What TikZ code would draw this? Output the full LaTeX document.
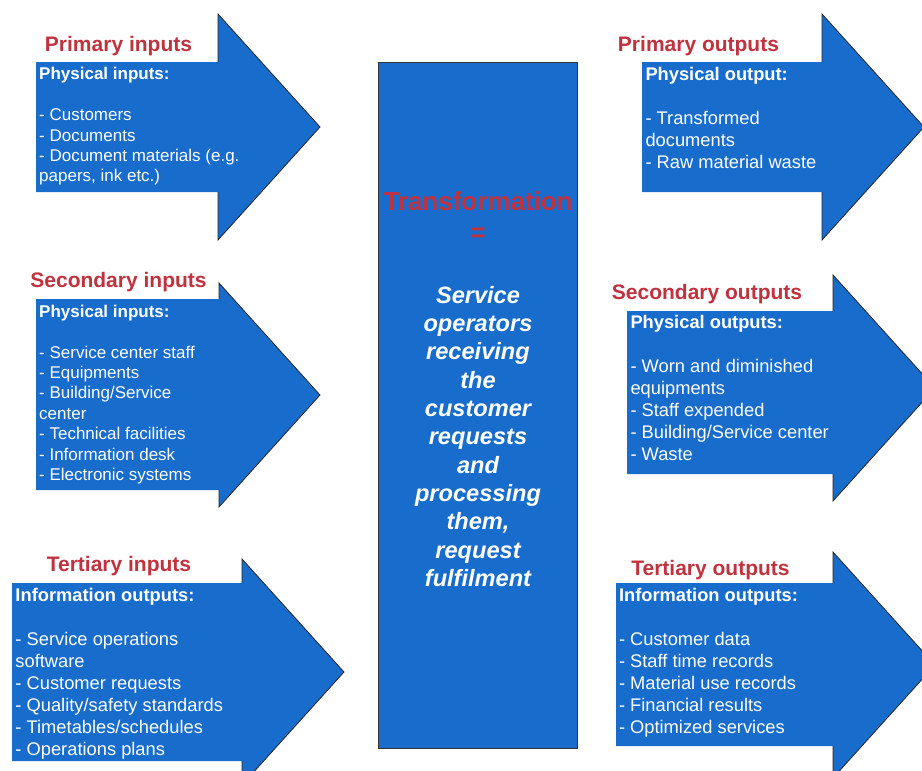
\documentclass[tikz,border=0pt]{standalone}
\usepackage{fontspec}
\setmainfont{Liberation Sans}
\definecolor{arrowblue}{RGB}{23,108,204}
\definecolor{titlered}{RGB}{192,50,62}
\begin{document}
\begin{tikzpicture}[x=1pt,y=-1pt,
  arrowfill/.style={fill=arrowblue},
  headline/.style={draw=black!85, line width=0.8pt, line join=miter},
  corebox/.style={draw=black!80, fill=arrowblue, line width=1pt},
  titletext/.style={text=titlered, font=\fontsize{21}{25}\selectfont\bfseries, inner sep=0pt, anchor=base},
  blocksmall/.style={text=white, font=\fontsize{17}{20.4}\selectfont, align=left, inner sep=0pt, anchor=north west},
  blocklarge/.style={text=white, font=\fontsize{18.3}{22}\selectfont, align=left, inner sep=0pt, anchor=north west},
  coretitle/.style={text=titlered, font=\fontsize{26}{31.2}\selectfont\bfseries, align=center, inner sep=0pt, anchor=north},
  corebody/.style={text=white, font=\fontsize{23.6}{28.34}\selectfont\bfseries\itshape, align=center, inner sep=0pt, anchor=north},
]
\useasboundingbox (0,0) rectangle (922,771);
\clip (0,0) rectangle (922,771);

% ---------- input arrows ----------
\fill[arrowfill] (36,62) -- (218,62) -- (218,14) -- (320,127) -- (218,240) -- (218,192) -- (36,192) -- cycle;
\draw[headline] (218,62) -- (218,14) -- (320,127) -- (218,240) -- (218,192);

\fill[arrowfill] (36,299) -- (219,299) -- (219,283) -- (320,395) -- (219,507) -- (219,490) -- (36,490) -- cycle;
\draw[headline] (219,299) -- (219,283) -- (320,395) -- (219,507) -- (219,490);

\fill[arrowfill] (12,583) -- (242,583) -- (242,559) -- (344,672) -- (242,785) -- (242,761) -- (12,761) -- cycle;
\draw[headline] (242,583) -- (242,559) -- (344,672) -- (242,785) -- (242,761);

% ---------- output arrows ----------
\fill[arrowfill] (642,62) -- (822,62) -- (822,14) -- (924,127) -- (822,240) -- (822,192) -- (642,192) -- cycle;
\draw[headline] (822,62) -- (822,14) -- (924,127) -- (822,240) -- (822,192);

\fill[arrowfill] (627,311) -- (833,311) -- (833,275) -- (935,388) -- (833,501) -- (833,474) -- (627,474) -- cycle;
\draw[headline] (833,311) -- (833,275) -- (935,388) -- (833,501) -- (833,474);

\fill[arrowfill] (616,583) -- (833,583) -- (833,552) -- (935,665) -- (833,778) -- (833,746) -- (616,746) -- cycle;
\draw[headline] (833,583) -- (833,552) -- (935,665) -- (833,778) -- (833,746);

% ---------- central box ----------
\draw[corebox] (378,62) rectangle (577,748);

% ---------- titles ----------
\node[titletext] (tpi) at (118.5,51.5) {Primary inputs};
\node[titletext] (tsi) at (118.5,287.6) {Secondary inputs};
\node[titletext] (tti) at (119,571.9) {Tertiary inputs};
\node[titletext] (tpo) at (698.5,51.9) {Primary outputs};
\node[titletext] (tso) at (707,299.6) {Secondary outputs};
\node[titletext] (tto) at (710.5,575.2) {Tertiary outputs};

% ---------- text blocks ----------
\node[blocksmall] (bpi) at (39,64.4) {\rule{0pt}{0.9em}\textbf{Physical inputs:}\\[20.4pt]
- Customers\\
- Documents\\
- Document materials (e.g.\\
papers, ink etc.)};

\node[blocksmall] (bsi) at (39,301.8) {\rule{0pt}{0.9em}\textbf{Physical inputs:}\\[20.4pt]
- Service center staff\\
- Equipments\\
- Building/Service\\
center\\
- Technical facilities\\
- Information desk\\
- Electronic systems};

\node[blocklarge] (bti) at (15.3,584.8) {\rule{0pt}{0.9em}\textbf{Information outputs:}\\[22pt]
- Service operations\\
software\\
- Customer requests\\
- Quality/safety standards\\
- Timetables/schedules\\
- Operations plans};

\node[blocklarge] (bpo) at (645.3,63.9) {\rule{0pt}{0.9em}\textbf{Physical output:}\\[22pt]
- Transformed\\
documents\\
- Raw material waste};

\node[blocklarge] (bso) at (630.3,312.2) {\rule{0pt}{0.9em}\textbf{Physical outputs:}\\[22pt]
- Worn and diminished\\
equipments\\
- Staff expended\\
- Building/Service center\\
- Waste};

\node[blocklarge] (bto) at (618.8,584.8) {\rule{0pt}{0.9em}\textbf{Information outputs:}\\[22pt]
- Customer data\\
- Staff time records\\
- Material use records\\
- Financial results\\
- Optimized services};

% ---------- central text ----------
\node[coretitle] (ctitle) at (478,186.5) {\rule{0pt}{0.9em}Transformation\\=};
\node[corebody] (cbody) at (478,281.8) {\rule{0pt}{0.9em}Service\\operators\\receiving\\the\\customer\\requests\\and\\processing\\them,\\request\\fulfilment};
\end{tikzpicture}
\end{document}
